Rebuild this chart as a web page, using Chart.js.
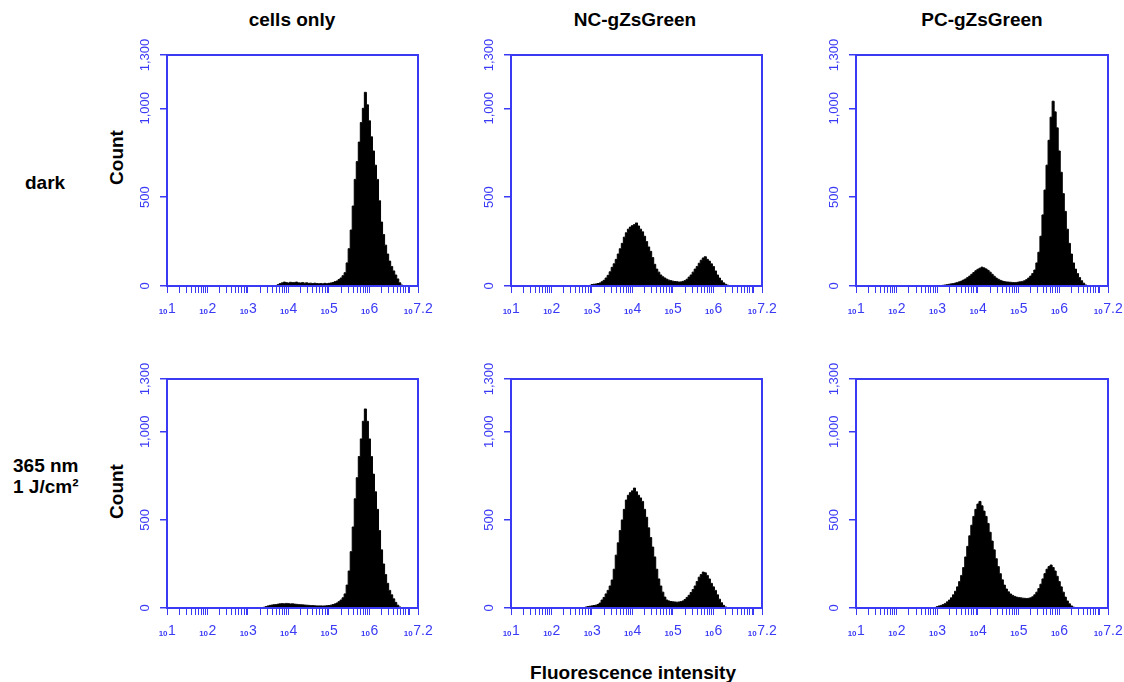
<!DOCTYPE html>
<html><head><meta charset="utf-8">
<script src="https://cdn.jsdelivr.net/npm/chart.js@4.4.1/dist/chart.umd.min.js"></script>
<style>
html,body{margin:0;padding:0;background:#fff;width:1124px;height:682px;overflow:hidden;position:relative;font-family:"Liberation Sans",Arial,sans-serif;}
canvas{position:absolute;}
.t{position:absolute;font-weight:bold;font-size:19px;line-height:19px;color:#000;white-space:nowrap;}
.c{text-align:center;width:300px;}
.r{width:80px;text-align:center;transform:rotate(-90deg);transform-origin:50% 50%;}
</style></head><body>
<div class="t c" style="left:142px;top:10px;">cells only</div>
<div class="t c" style="left:485px;top:10px;">NC-gZsGreen</div>
<div class="t c" style="left:832px;top:10px;">PC-gZsGreen</div>
<div class="t" style="left:25px;top:173px;">dark</div>
<div class="t" style="left:13px;top:456px;">365 nm</div>
<div class="t" style="left:13px;top:477px;">1 J/cm²</div>
<div class="t r" style="left:76px;top:148px;">Count</div>
<div class="t r" style="left:76px;top:482px;">Count</div>
<div class="t c" style="left:483px;top:663px;">Fluorescence intensity</div>
<script>
// ---- data ----
const columnTitles = ['cells only', 'NC-gZsGreen', 'PC-gZsGreen'];
const rowLabels = ['dark', '365 nm 1 J/cm²'];
// bin centres, log10(fluorescence intensity)
const binLog10 = [2.80,2.85,2.90,2.95,3.00,3.05,3.10,3.15,3.20,3.25,
  3.30,3.35,3.40,3.45,3.50,3.55,3.60,3.65,3.70,3.75,
  3.80,3.85,3.90,3.95,4.00,4.05,4.10,4.15,4.20,4.25,
  4.30,4.35,4.40,4.45,4.50,4.55,4.60,4.65,4.70,4.75,
  4.80,4.85,4.90,4.95,5.00,5.05,5.10,5.15,5.20,5.25,
  5.30,5.35,5.40,5.45,5.50,5.55,5.60,5.65,5.70,5.75,
  5.80,5.85,5.90,5.95,6.00,6.05,6.10,6.15,6.20,6.25,
  6.30,6.35,6.40,6.45,6.50,6.55,6.60,6.65,6.70,6.75,
  6.80,6.85];
const cellsDark = [0,0,0,0,0,0,0,0,0,0,
  0,0,0,0,0,0,0,0,3,8,
  14,18,22,19,17,21,19,20,22,18,
  17,19,16,18,15,16,14,16,14,13,
  14,12,15,13,15,17,19,24,28,36,
  45,58,75,130,210,315,450,600,700,810,
  920,1000,1090,1020,930,840,760,680,600,480,
  360,290,230,180,140,110,85,62,40,18,
  5,0];
const ncDark = [0,0,0,3,8,10,11,14,17,24,
  32,45,60,80,105,125,150,180,210,240,
  275,300,320,332,340,346,355,338,320,305,
  280,250,220,195,160,122,95,78,62,52,
  45,38,33,30,27,25,24,22,23,26,
  30,38,50,62,78,95,110,128,145,158,
  165,150,140,125,110,85,62,45,30,18,
  10,5,0,0,0,0,0,0,0,0,
  0,0];
const pcDark = [0,0,0,0,0,0,2,4,6,8,
  10,12,14,17,20,24,28,34,40,48,
  56,66,76,86,94,100,106,102,96,88,
  78,66,55,45,38,32,28,25,23,22,
  21,20,19,20,22,24,26,30,36,45,
  56,70,90,130,190,280,400,540,680,820,
  950,1040,980,890,760,640,520,420,320,240,
  180,130,95,70,48,30,16,6,0,0,
  0,0];
const cellsUV = [0,0,0,0,0,0,0,0,0,0,
  0,0,4,8,12,15,17,19,20,22,
  24,25,24,26,25,23,24,22,21,20,
  19,18,17,16,15,14,14,13,12,12,
  12,11,12,13,14,16,19,23,28,36,
  45,58,80,130,210,320,460,620,740,860,
  960,1060,1130,1060,960,860,760,660,560,440,
  330,250,190,140,100,75,52,32,16,6,
  0,0];
const ncUV = [2,5,8,10,12,14,16,20,28,45,
  60,80,100,125,159,220,300,370,440,500,
  560,613,640,655,665,681,660,640,625,605,
  560,515,455,400,346,290,220,165,125,90,
  62,45,40,37,35,34,33,34,36,40,
  48,60,72,88,105,125,150,175,190,204,
  200,185,165,140,120,100,75,50,30,15,
  6,0,0,0,0,0,0,0,0,0,
  0,0];
const pcUV = [0,0,0,3,8,12,15,20,26,35,
  45,58,75,95,120,150,185,230,290,350,
  410,470,520,560,590,605,580,550,520,480,
  430,380,330,280,235,195,160,130,108,92,
  80,72,66,62,60,58,56,55,54,55,
  58,64,75,90,110,135,165,195,220,235,
  244,230,210,180,150,120,90,62,40,24,
  12,5,0,0,0,0,0,0,0,0,
  0,0];
const yTickValues = [0, 500, 1000, 1300];
const yTickLabels = ['0', '500', '1,000', '1,300'];
const xLabelExps = [1, 2, 3, 4, 5, 6, 7.2];
const xLabelSup = ['1', '2', '3', '4', '5', '6', '7.2'];
const xMinorMult = [1,2,3,4,5,6,7,8,9];
const xDecades = [1,2,3,4,5,6];

const BLUE = 'rgb(58,58,245)';
const FONT = '"Liberation Sans", Arial, sans-serif';
const XMIN = 10, XMAX = Math.pow(10, 7.2);

const panels = [
  {series: cellsDark, L: 167, T: 55, W: 251, H: 231},
  {series: ncDark,    L: 511, T: 55, W: 251, H: 231},
  {series: pcDark,    L: 856, T: 55, W: 252, H: 231},
  {series: cellsUV,   L: 167, T: 379, W: 251, H: 229},
  {series: ncUV,      L: 511, T: 379, W: 251, H: 229},
  {series: pcUV,      L: 856, T: 379, W: 252, H: 229}
];

const PADL = 45, PADT = 34, PADR = 16, PADB = 34;

const framePlugin = {
  id: 'frameLabels',
  afterDraw(chart) {
    const {ctx, chartArea: a, scales: {x, y}} = chart;
    ctx.save();
    ctx.strokeStyle = BLUE;
    ctx.lineWidth = 2;
    ctx.strokeRect(a.left, a.top, a.right - a.left, a.bottom - a.top);
    ctx.fillStyle = BLUE;
    ctx.font = '13px ' + FONT;
    ctx.textAlign = 'center';
    ctx.textBaseline = 'middle';
    yTickValues.forEach((v, i) => {
      const py = y.getPixelForValue(v);
      ctx.save();
      ctx.translate(a.left - 22, py);
      ctx.rotate(-Math.PI / 2);
      ctx.fillText(yTickLabels[i], 0, 0);
      ctx.restore();
    });
    ctx.textAlign = 'left';
    ctx.textBaseline = 'alphabetic';
    xLabelExps.forEach((e, i) => {
      const px = x.getPixelForValue(Math.pow(10, e));
      ctx.font = 'bold 8px ' + FONT;
      const w1 = ctx.measureText('10').width;
      ctx.font = '14px ' + FONT;
      const w2 = ctx.measureText(xLabelSup[i]).width;
      const start = px - (w1 + w2) / 2;
      const base = a.bottom + 27;
      ctx.font = 'bold 8px ' + FONT;
      ctx.fillText('10', start, base + 1);
      ctx.font = '14px ' + FONT;
      ctx.fillText(xLabelSup[i], start + w1 + 0.5, base);
    });
    ctx.restore();
  }
};

panels.forEach((p, idx) => {
  const cv = document.createElement('canvas');
  const cw = p.W + PADL + PADR, ch = p.H + PADT + PADB;
  cv.width = cw; cv.height = ch;
  cv.style.left = (p.L - PADL) + 'px';
  cv.style.top = (p.T - PADT) + 'px';
  cv.style.width = cw + 'px'; cv.style.height = ch + 'px';
  document.body.appendChild(cv);
  const pts = binLog10.map((b, i) => ({x: Math.pow(10, b), y: p.series[i]}));
  new Chart(cv.getContext('2d'), {
    type: 'line',
    data: {datasets: [{
      data: pts,
      stepped: 'middle',
      fill: 'origin',
      backgroundColor: '#000',
      borderColor: '#000',
      borderWidth: 1,
      pointRadius: 0
    }]},
    options: {
      responsive: false,
      animation: false,
      events: [],
      layout: {padding: {left: 0, top: PADT, right: PADR, bottom: 0}},
      plugins: {legend: {display: false}, tooltip: {enabled: false}},
      scales: {
        x: {
          type: 'logarithmic',
          min: XMIN, max: XMAX,
          afterBuildTicks(scale) {
            const t = [];
            xDecades.forEach(d => xMinorMult.forEach(m => t.push({value: m * Math.pow(10, d)})));
            t.push({value: Math.pow(10, 7)});
            t.push({value: XMAX});
            scale.ticks = t;
          },
          afterFit(scale) { scale.height = PADB; },
          ticks: {display: false, autoSkip: false},
          grid: {display: true, drawOnChartArea: false, drawTicks: true, tickLength: 7, color: BLUE, lineWidth: 1},
          border: {display: false}
        },
        y: {
          type: 'linear',
          min: 0, max: 1300,
          afterBuildTicks(scale) { scale.ticks = yTickValues.map(v => ({value: v})); },
          afterFit(scale) { scale.width = PADL; },
          ticks: {display: false},
          grid: {display: true, drawOnChartArea: false, drawTicks: true, tickLength: 7, color: BLUE, lineWidth: 1.5},
          border: {display: false}
        }
      }
    },
    plugins: [framePlugin]
  });
});
</script>
</body></html>
